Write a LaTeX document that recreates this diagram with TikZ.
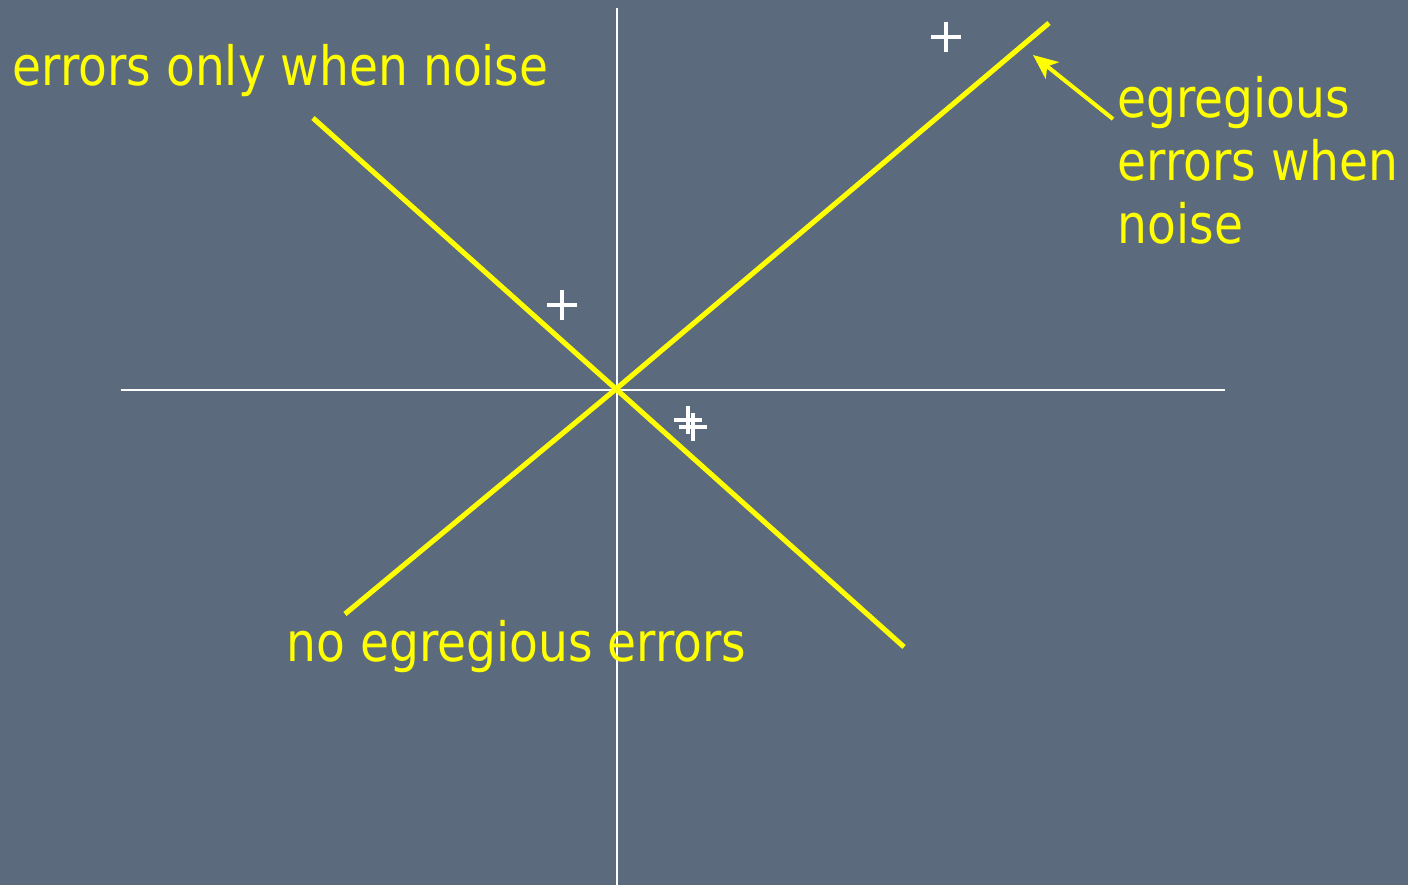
\documentclass[tikz,border=0pt]{standalone}
\usepackage{fontspec}
\setmainfont{DejaVu Sans}[FakeStretch=0.87]
\usepackage{tikz}
\usetikzlibrary{arrows.meta, positioning}
\definecolor{slate}{RGB}{91,106,124}
\definecolor{hiyellow}{RGB}{255,255,0}
\tikzset{
  axis/.style={draw=white, line width=0.6pt},
  sepline/.style={draw=hiyellow, line width=1.45pt},
  pointer/.style={draw=hiyellow, line width=1.15pt, -{Stealth[length=7pt, width=6pt, inset=1.8pt]}},
  plusmark/.style={draw=white, line width=0.9pt},
  lbl/.style={text=hiyellow, font=\fontsize{15.4}{18}\selectfont, inner sep=0pt, anchor=base west}
}

\begin{document}
\begin{tikzpicture}[x=0.01cm, y=-0.01cm]
  \fill[slate] (0,0) rectangle (1408,885);
  \useasboundingbox (0,0) rectangle (1408,885);

  % axes
  \coordinate (o) at (616,389);
  \draw[axis] (617,8) -- (617,885);
  \draw[axis] (121,390) -- (1225,390);

  % two separators through the origin
  \coordinate (l1a) at (313,118);
  \coordinate (l1b) at (904,647);
  \coordinate (l2a) at (345,614);
  \coordinate (l2b) at (1049,23);
  \draw[sepline] (l1a) -- (o) -- (l1b);
  \draw[sepline] (l2a) -- (o) -- (l2b);

  % data points
  \foreach \px/\py/\r in {946/37/15, 562/305/15, 688/420/14, 693/427/14} {
    \draw[plusmark] (\px-\r,\py) -- (\px+\r,\py) (\px,\py-\r) -- (\px,\py+\r);
  }

  % labels
  \node[lbl] (lblleft) at (12,86) {errors only when noise};
  \node[lbl] (lblbottom) at (286,662) {no egregious errors};
  \node[lbl, align=left] (lblright) at (1117,244) {egregious\\errors when\\noise};

  \coordinate (arrtail) at (1113,119);
  \coordinate (arrtip) at (1033,55);
  \draw[pointer] (arrtail) -- (arrtip);
\end{tikzpicture}
\end{document}
